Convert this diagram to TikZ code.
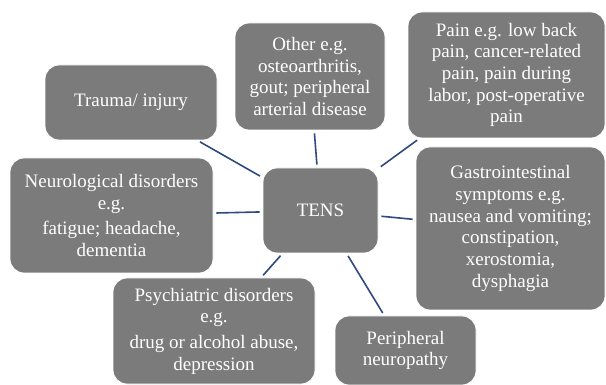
\documentclass[tikz,border=0pt]{standalone}
\usepackage{fontspec}
\setmainfont{Liberation Serif}
\definecolor{boxgray}{HTML}{7B7B7B}
\definecolor{linkblue}{HTML}{2F4A7E}
\begin{document}
\begin{tikzpicture}[x=1pt,y=-1pt,
  box/.style={fill=boxgray,draw=white,line width=0.8pt,rounded corners=14pt,
    text=white,align=center,inner sep=2pt,
    font=\fontsize{19}{21.7}\selectfont},
  link/.style={draw=linkblue,line width=1.6pt,shorten <=3pt,shorten >=3pt}]
\useasboundingbox (0,0) rectangle (606,385);
\fill[white] (0,0) rectangle (606,385);
\node[box,minimum width=172pt,minimum height=75pt] (trauma) at (131,102.5) {Trauma/ injury};
\node[box,minimum width=150pt,minimum height=107pt] (other) at (310,76.5) {Other e.g.\\ osteoarthritis,\\ gout; peripheral\\ arterial disease};
\node[box,minimum width=197pt,minimum height=126pt] (pain) at (506.5,75) {Pain e.g. low back\\ pain, cancer-related\\ pain, pain during\\ labor, post-operative\\ pain};
\node[box,minimum width=189pt,minimum height=163pt] (gastro) at (510.5,228.5) {Gastrointestinal\\ symptoms e.g.\\ nausea and vomiting;\\ constipation,\\ xerostomia,\\ dysphagia};
\node[box,minimum width=115pt,minimum height=85pt] (tens) at (320.5,210.5) {TENS};
\node[box,minimum width=203pt,minimum height=115pt] (neuro) at (111.5,215.5) {Neurological disorders\\ e.g.\\[4pt] fatigue; headache,\\ dementia};
\node[box,minimum width=202pt,minimum height=106pt] (psych) at (214,331) {Psychiatric disorders\\ e.g.\\[4pt] drug or alcohol abuse,\\ depression};
\node[box,minimum width=141pt,minimum height=69pt] (periph) at (405.5,350.5) {Peripheral\\ neuropathy};
\draw[link] (tens) -- (trauma);
\draw[link] (tens) -- (other);
\draw[link] (tens) -- (pain);
\draw[link] (tens) -- (gastro);
\draw[link] (tens) -- (neuro);
\draw[link] (tens) -- (psych);
\draw[link] (tens) -- (periph);
\end{tikzpicture}
\end{document}
